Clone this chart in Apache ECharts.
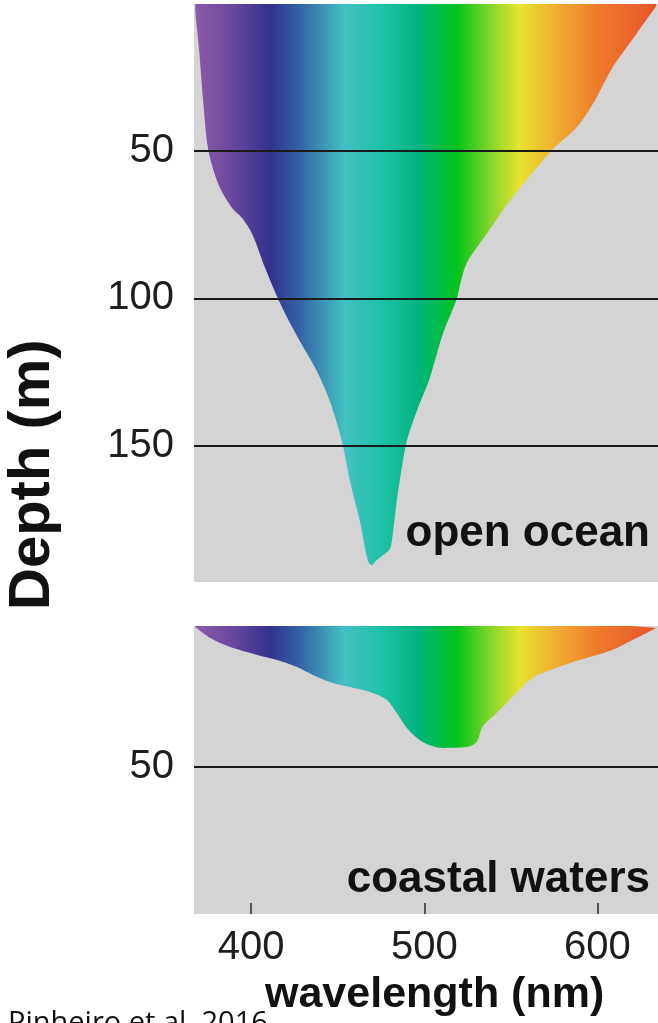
<!DOCTYPE html>
<html>
<head>
<meta charset="utf-8">
<style>
  html, body { margin: 0; padding: 0; background: #ffffff; }
  #chart { width: 658px; height: 1023px; }
</style>
<script src="https://cdn.jsdelivr.net/npm/echarts@6/dist/echarts.min.js"></script>
</head>
<body>
<div id="chart"></div>
<script>
// Wavelength range shown on the shared x axis (nm)
const wavelengthRange = [367, 635];
const wavelengthTicks = [400, 500, 600];

// Depth ticks (m) for each panel
const oceanDepthTicks = [50, 100, 150];
const coastalDepthTicks = [50];
const oceanDepthMax = 196.3;
const coastalDepthMax = 102.5;

// Maximum penetration depth (m) of light at each wavelength (nm): open ocean
const oceanWavelength = [367.7, 370.0, 372.3, 375.2, 381.0, 389.0, 394.8, 400.6, 408.1, 415.6, 422.5, 428.2, 438.0, 445.5, 452.4, 457.1, 462.8, 467.4, 469.7, 472.0, 475.5, 480.1, 481.8, 484.1, 487.0, 489.9, 495.7, 503.2, 510.7, 518.7, 521.6, 525.1, 536.0, 549.3, 564.8, 574.1, 583.9, 589.6, 598.3, 608.6, 622.5, 634.0];
const oceanDepth      = [2.4, 16.0, 33.0, 49.3, 61.1, 69.3, 72.7, 78.1, 89.7, 100.2, 108.4, 114.5, 124.7, 134.9, 148.4, 162.0, 175.6, 189.0, 190.6, 189.2, 187.5, 185.1, 180.0, 168.8, 157.6, 148.4, 138.2, 127.0, 112.1, 100.2, 93.1, 87.3, 78.1, 66.9, 55.7, 49.3, 44.2, 40.8, 33.0, 21.7, 10.2, 0.7];

// Maximum penetration depth (m) of light at each wavelength (nm): coastal waters
const coastalWavelength = [367.7, 376.4, 387.9, 403.5, 415.0, 426.5, 435.7, 445.5, 457.1, 468.6, 478.4, 484.1, 489.9, 499.1, 510.7, 524.5, 530.3, 533.7, 541.8, 551.0, 562.5, 576.4, 589.6, 608.6, 620.2, 634.0];
const coastalDepth      = [0.4, 4.3, 7.5, 10.3, 12.1, 14.6, 17.4, 19.9, 21.7, 23.5, 26.3, 31.0, 36.3, 41.3, 43.4, 43.1, 41.3, 35.9, 31.0, 25.3, 18.5, 14.9, 12.1, 8.5, 5.0, 0.7];

// Colour of visible light along the spectrum (wavelength nm -> colour)
const spectrumWavelength = [367.7, 388, 411, 428, 454, 474, 497, 519, 538, 555, 578, 601, 634];
const spectrumColor = ['#8b5ca8', '#6c49a0', '#33318d', '#3462a7', '#43c2c3', '#22c2a8', '#00b47e', '#02c41c', '#84d52a', '#e7e32f', '#f0a930', '#ee7a2c', '#e8552a'];

function spectrumGradient(lambdas) {
  const lo = lambdas[0], hi = lambdas[lambdas.length - 1];
  const stops = spectrumWavelength.map((w, i) => ({
    offset: Math.min(1, Math.max(0, (w - lo) / (hi - lo))),
    color: spectrumColor[i]
  }));
  return new echarts.graphic.LinearGradient(0, 0, 1, 0, stops);
}

const pairs = (xs, ys) => xs.map((x, i) => [x, ys[i]]);

const FONT = '"Liberation Sans", Arial, Helvetica, sans-serif';
const PANEL_BG = '#d4d4d4';

function depthAxis(gridIndex, max, ticks) {
  return {
    type: 'value',
    gridIndex,
    inverse: true,
    min: 0,
    max,
    axisLine: { show: false },
    axisTick: { show: false },
    splitLine: { show: false },
    axisLabel: {
      customValues: ticks,
      fontFamily: FONT,
      fontSize: 40,
      color: '#1e1e1e',
      margin: 20
    }
  };
}

function gridLines(ticks) {
  return {
    silent: true,
    symbol: ['none', 'none'],
    label: { show: false },
    lineStyle: { color: '#1a1a1a', width: 2, type: 'solid' },
    data: ticks.map(v => ({ yAxis: v }))
  };
}

const chart = echarts.init(document.getElementById('chart'), null, { renderer: 'canvas' });

chart.setOption({
  animation: false,
  backgroundColor: '#ffffff',
  grid: [
    { left: 194, right: 0, top: 4, height: 578, show: true, backgroundColor: PANEL_BG, borderWidth: 0 },
    { left: 194, right: 0, top: 626, height: 288, show: true, backgroundColor: PANEL_BG, borderWidth: 0 }
  ],
  xAxis: [
    {
      type: 'value', gridIndex: 0, min: wavelengthRange[0], max: wavelengthRange[1],
      show: false, splitLine: { show: false }
    },
    {
      type: 'value', gridIndex: 1, min: wavelengthRange[0], max: wavelengthRange[1],
      position: 'bottom',
      axisLine: { show: false, onZero: false },
      splitLine: { show: false },
      axisTick: {
        customValues: wavelengthTicks,
        inside: true,
        length: 11,
        lineStyle: { color: '#2a2a2a', width: 1.5 }
      },
      axisLabel: {
        customValues: wavelengthTicks,
        fontFamily: FONT,
        fontSize: 40,
        color: '#1e1e1e',
        margin: 14
      }
    }
  ],
  yAxis: [
    depthAxis(0, oceanDepthMax, oceanDepthTicks),
    depthAxis(1, coastalDepthMax, coastalDepthTicks)
  ],
  series: [
    {
      name: 'open ocean',
      type: 'line',
      xAxisIndex: 0,
      yAxisIndex: 0,
      data: pairs(oceanWavelength, oceanDepth),
      smooth: 0.3,
      symbol: 'none',
      lineStyle: { width: 0 },
      areaStyle: { origin: 'start', color: spectrumGradient(oceanWavelength), opacity: 1 },
      markLine: gridLines(oceanDepthTicks)
    },
    {
      name: 'coastal waters',
      type: 'line',
      xAxisIndex: 1,
      yAxisIndex: 1,
      data: pairs(coastalWavelength, coastalDepth),
      smooth: 0.3,
      symbol: 'none',
      lineStyle: { width: 0 },
      areaStyle: { origin: 'start', color: spectrumGradient(coastalWavelength), opacity: 1 },
      markLine: gridLines(coastalDepthTicks)
    }
  ],
  graphic: [
    {
      type: 'text', left: 8, top: 1009, z: 1,
      style: { text: 'Pinheiro et al. 2016', font: '29px "Open Sans", sans-serif', fill: '#111111' }
    },
    {
      type: 'text', right: 8, top: 512, z: 5,
      style: { text: 'open ocean', font: 'bold 44px ' + FONT, fill: '#111111' }
    },
    {
      type: 'text', right: 8, top: 858, z: 5,
      style: { text: 'coastal waters', font: 'bold 44px ' + FONT, fill: '#111111' }
    },
    {
      type: 'text', left: 265, top: 974, z: 5,
      style: { text: 'wavelength (nm)', font: 'bold 43px ' + FONT, fill: '#111111' }
    },
    {
      type: 'text', x: 4, y: 610, rotation: Math.PI / 2, z: 5,
      style: { text: 'Depth (m)', font: 'bold 58px ' + FONT, fill: '#111111', textAlign: 'left', textVerticalAlign: 'top' }
    }
  ]
});
</script>
</body>
</html>
